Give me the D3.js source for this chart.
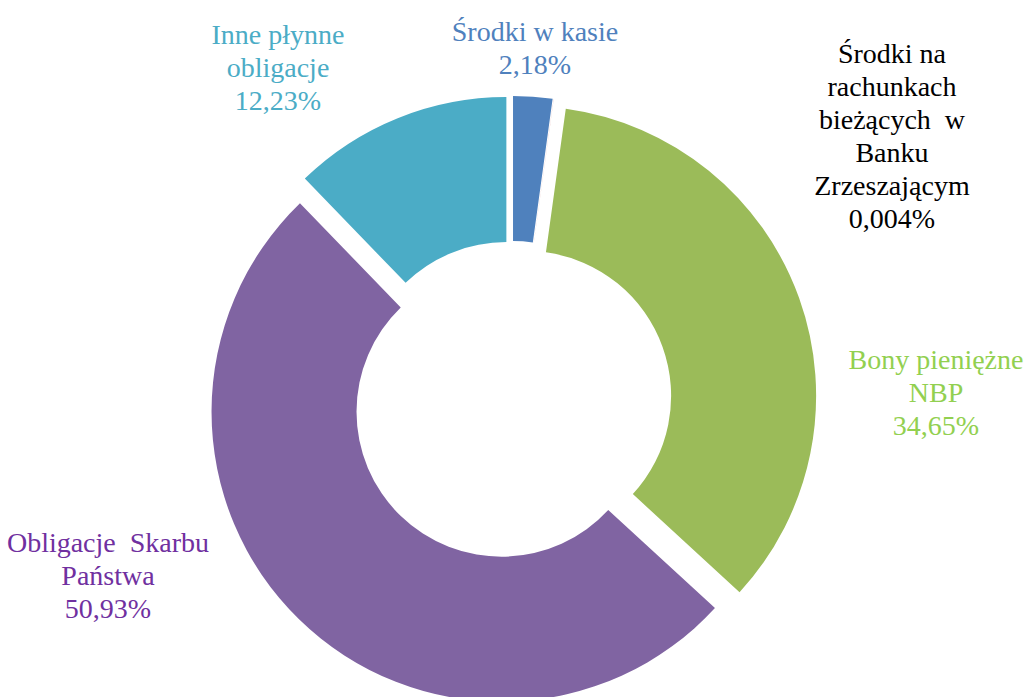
<!DOCTYPE html>
<html lang="pl">
	<head>
		<meta charset="UTF-8" />
		<title>Struktura aktywów płynnych</title>
		<script src="https://d3js.org/d3.v7.min.js"></script>
		<style>
			body {
				margin: 0;
				padding: 0;
				background: #fff;
			}
			svg {
				display: block;
			}
		</style>
	</head>
	<body>
		<svg width="1027" height="697"></svg>
		<script>
			// data
			const categories = [
				"Środki w kasie",
				"Środki na rachunkach bieżących w Banku Zrzeszającym",
				"Bony pieniężne NBP",
				"Obligacje Skarbu Państwa",
				"Inne płynne obligacje",
			];
			const values = [2.18, 0.004, 34.65, 50.93, 12.23];
			const valueLabels = ["2,18%", "0,004%", "34,65%", "50,93%", "12,23%"];

			// how the label text is broken into lines (as in the original)
			const labelLines = [
				["Środki w kasie"],
				["Środki na", "rachunkach", "bieżących\u00A0 w", "Banku", "Zrzeszającym"],
				["Bony pieniężne", "NBP"],
				["Obligacje\u00A0 Skarbu", "Państwa"],
				["Inne płynne", "obligacje"],
			];

			// layout / style
			const width = 1027;
			const height = 697;
			const cx = 512;
			const cy = 401;
			const outerRadius = 290;
			const innerRadius = 145;
			const explode = 15;
			const lineHeight = 33;
			const fontFamily = "'Liberation Serif', Tinos, 'Times New Roman', 'DejaVu Serif', serif";

			const sliceColors = ["#4F81BD", "#C0504D", "#9BBB59", "#8064A2", "#4BACC6"];
			const labelColors = ["#4F81BD", "#000000", "#92D050", "#7030A0", "#4BACC6"];
			// label anchor: centre x, baseline of first line
			const labelPos = [
				[535, 41],
				[892, 63],
				[936, 369],
				[108, 552],
				[278, 44],
			];

			const svg = d3.select("svg").attr("width", width).attr("height", height);

			const pie = d3
				.pie()
				.sort(null)
				.value((d) => d)
				.startAngle(0)
				.endAngle(2 * Math.PI);

			const arc = d3.arc().innerRadius(innerRadius).outerRadius(outerRadius);

			const arcs = pie(values);

			const chart = svg.append("g").attr("transform", `translate(${cx},${cy})`);

			// exploded slices: each one pushed out along its middle angle
			chart
				.selectAll("path")
				.data(arcs)
				.enter()
				.append("path")
				.attr("d", arc)
				.attr("fill", (d, i) => sliceColors[i])
				.attr("transform", (d) => {
					const mid = (d.startAngle + d.endAngle) / 2;
					const dx = explode * Math.sin(mid);
					const dy = -explode * Math.cos(mid);
					return `translate(${dx},${dy})`;
				});

			// data labels
			const labels = svg
				.append("g")
				.selectAll("text")
				.data(arcs)
				.enter()
				.append("text")
				.attr("font-family", fontFamily)
				.attr("font-size", 28)
				.attr("text-anchor", "middle")
				.attr("fill", (d, i) => labelColors[i])
				.attr("x", (d, i) => labelPos[i][0])
				.attr("y", (d, i) => labelPos[i][1]);

			labels.each(function (d, i) {
				const t = d3.select(this);
				const lines = labelLines[i].concat([valueLabels[i]]);
				lines.forEach((line, k) => {
					t.append("tspan")
						.attr("x", labelPos[i][0])
						.attr("dy", k === 0 ? 0 : lineHeight)
						.text(line);
				});
			});
		</script>
	</body>
</html>
